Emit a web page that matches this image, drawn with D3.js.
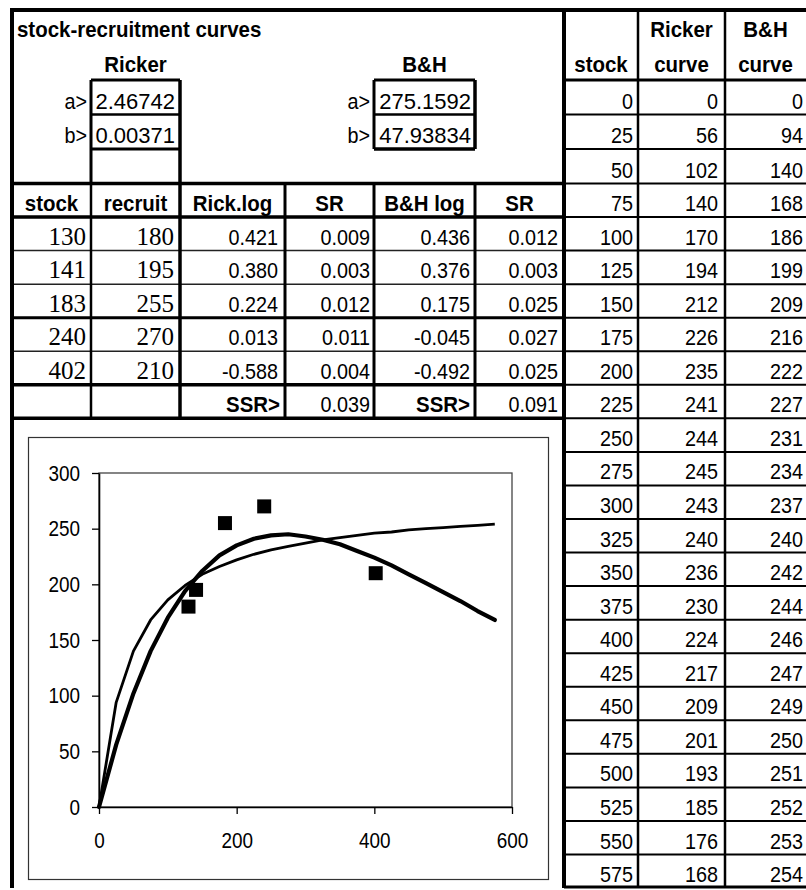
<!DOCTYPE html>
<html><head><meta charset="utf-8">
<script src="https://cdn.jsdelivr.net/npm/d3@7"></script>
<style>
html,body{margin:0;padding:0;background:#fff;}
svg{display:block;}
text{font-family:"Liberation Sans",Arial,sans-serif;fill:#000;}
</style></head><body>
<svg id="c" width="806" height="890"></svg>
<script>
// ---- data ----
const title = "stock-recruitment curves";
const gridStock   = [0,25,50,75,100,125,150,175,200,225,250,275,300,325,350,375,400,425,450,475,500,525,550,575];
const rickerCurve = [0,56,102,140,170,194,212,226,235,241,244,245,243,240,236,230,224,217,209,201,193,185,176,168];
const bhCurve     = [0,94,140,168,186,199,209,216,222,227,231,234,237,240,242,244,246,247,249,250,251,252,253,254];
const obsStock    = [130,141,183,240,402];
const obsRecruit  = [180,195,255,270,210];
const rickLog     = ["0.421","0.380","0.224","0.013","-0.588"];
const rickSR      = ["0.009","0.003","0.012","0.011","0.004"];
const bhLog       = ["0.436","0.376","0.175","-0.045","-0.492"];
const bhSR        = ["0.012","0.003","0.025","0.027","0.025"];
const ssrValues   = ["0.039","0.091"];
const rickerParams = ["2.46742","0.00371"];
const bhParams     = ["275.1592","47.93834"];
const paramLabels  = ["a>","b>"];
const midHeaders   = ["stock","recruit","Rick.log","SR","B&H log","SR"];
const yTicks = [0,50,100,150,200,250,300];
const xTicks = [0,200,400,600];

// ---- layout ----
const svg = d3.select("#c");
const colX = [12,91,180,285,374,475,564,638,725,806];
const edges = d3.range(25).map(i => i <= 3 ? 80 + i*34.5 : 183.5 + (i-3)*33.55);
const FS = 22, SX = 0.9;        // regular numbers (narrowed)
const FSB = 22, SXB = 0.93;     // bold labels
const FSERIF = 25;

const gL = svg.append("g");
function hl(x1,x2,y,w,c){gL.append("line").attr("x1",x1).attr("x2",x2).attr("y1",y).attr("y2",y).attr("stroke",c||"#000").attr("stroke-width",w);}
function vl(x,y1,y2,w,c){gL.append("line").attr("x1",x).attr("x2",x).attr("y1",y1).attr("y2",y2).attr("stroke",c||"#000").attr("stroke-width",w);}
const gT = svg.append("g");
function txt(x,y,s,anchor,opt){
  opt = opt||{};
  const sx = opt.serif ? 1 : (opt.bold ? SXB : (opt.sx||SX));
  gT.append("text").attr("x",0).attr("y",0)
    .attr("transform",`translate(${x},${y}) scale(${sx},1)`)
    .attr("text-anchor",anchor||"start")
    .attr("font-size",opt.size||(opt.bold?FSB:FS)).attr("font-weight",opt.bold?"bold":"normal")
    .style("font-family",opt.serif?'"Liberation Serif","Times New Roman",serif':null)
    .text(s);
}
const base = i => edges[i+1] - 6;
const right = (c,pad) => colX[c+1] - pad;
const center = c => (colX[c]+colX[c+1])/2;

// ---- header texts ----
txt(17,37,title,"start",{bold:true});
txt(center(1),72,"Ricker","middle",{bold:true});
txt(center(4),72,"B&H","middle",{bold:true});
txt(center(6),72,"stock","middle",{bold:true});
txt(center(7),37,"Ricker","middle",{bold:true});
txt(center(7),72,"curve","middle",{bold:true});
txt(center(8),37,"B&H","middle",{bold:true});
txt(center(8),72,"curve","middle",{bold:true});

// parameters
paramLabels.forEach((l,i)=>{
  txt(right(0,4),base(i),l,"end");
  txt(right(1,5),base(i),rickerParams[i],"end",{sx:1});
  txt(right(3,4),base(i),l,"end");
  txt(right(4,4),base(i),bhParams[i],"end",{sx:1});
});

// middle table
midHeaders.forEach((h,c)=>txt(center(c),base(3),h,"middle",{bold:true}));
obsStock.forEach((v,i)=>{
  const r = 4+i;
  txt(right(0,5),base(r),v,"end",{serif:true,size:FSERIF});
  txt(right(1,6),base(r),obsRecruit[i],"end",{serif:true,size:FSERIF});
  txt(right(2,7),base(r),rickLog[i],"end");
  txt(right(3,4),base(r),rickSR[i],"end");
  txt(right(4,5),base(r),bhLog[i],"end");
  txt(right(5,6),base(r),bhSR[i],"end");
});
txt(right(2,5),base(9),"SSR>","end",{bold:true});
txt(right(3,4),base(9),ssrValues[0],"end");
txt(right(4,5),base(9),"SSR>","end",{bold:true});
txt(right(5,6),base(9),ssrValues[1],"end");

// right table
gridStock.forEach((s,i)=>{
  txt(right(6,5),base(i),s,"end");
  txt(right(7,7),base(i),rickerCurve[i],"end");
  txt(right(8,3),base(i),bhCurve[i],"end");
});

// ---- grid lines ----
for(let i=1;i<24;i++) hl(colX[6],806,edges[i],2);
hl(colX[6],806,edges[0],3);
hl(colX[6],806,edges[24]-1,3);
vl(colX[7],10,888,2.5);
vl(colX[8],10,888,2.5);
// Ricker box
hl(colX[1],colX[2],edges[0],3); hl(colX[1],colX[2],edges[1],2.5); hl(colX[1],colX[2],edges[2],3);
vl(colX[1],edges[0],edges[3],3); vl(colX[2],edges[0],edges[3],3.5);
// B&H box
hl(colX[4],colX[5],edges[0],3); hl(colX[4],colX[5],edges[1],2.5); hl(colX[4],colX[5],edges[2],3.5);
vl(colX[4],edges[0],edges[2],3); vl(colX[5],edges[0],edges[2],3.5);
// middle table
hl(colX[0],colX[6],edges[3],3.5);
hl(colX[0],colX[6],edges[4],3.5);
hl(colX[0],colX[6],edges[5],1.5,"#222");
hl(colX[0],colX[6],edges[6],1.5,"#222");
hl(colX[0],colX[6],edges[7],3);
hl(colX[0],colX[6],edges[8],1.5,"#222");
hl(colX[0],colX[6],edges[9],3.5);
hl(colX[0],colX[6],edges[10],3.5);
vl(colX[1],edges[3],edges[10],2.5);
vl(colX[2],edges[3],edges[10],3.5);
vl(colX[3],edges[3],edges[10],3);
vl(colX[4],edges[3],edges[10],3);
vl(colX[5],edges[3],edges[10],3);
// outer borders
hl(10,806,10,4);
vl(12,8,888,4);
vl(colX[6],8,888,4);

// ---- chart ----
const gC = svg.append("g");
gC.append("rect").attr("x",28.5).attr("y",437.5).attr("width",520).attr("height",442)
  .attr("fill","#fff").attr("stroke","#333").attr("stroke-width",1.2);
const x = d3.scaleLinear().domain([0,600]).range([99,512]);
const y = d3.scaleLinear().domain([0,300]).range([807,473]);
gC.append("rect").attr("x",x(0)).attr("y",y(300)).attr("width",x(600)-x(0)).attr("height",y(0)-y(300))
  .attr("fill","none").attr("stroke","#444").attr("stroke-width",1.3);

const yAxis = gC.append("g").attr("transform",`translate(${x(0)},0)`)
  .call(d3.axisLeft(y).tickValues(yTicks).tickSize(7).tickPadding(12).tickSizeOuter(0));
const xAxis = gC.append("g").attr("transform",`translate(0,${y(0)})`)
  .call(d3.axisBottom(x).tickValues(xTicks).tickSize(7).tickPadding(18).tickSizeOuter(0));
[yAxis,xAxis].forEach(a=>{
  a.select(".domain").attr("stroke","#000").attr("stroke-width",1.6);
  a.selectAll(".tick line").attr("stroke","#000").attr("stroke-width",1.3);
});
// tick labels: narrowed like the spreadsheet font
yAxis.selectAll(".tick text").each(function(){
  const t = d3.select(this);
  t.attr("font-size",22).style("font-family",'"Liberation Sans",Arial,sans-serif').attr("fill","#000")
   .attr("transform",`translate(${t.attr("x")},0) scale(0.86,1)`).attr("x",0);
});
xAxis.selectAll(".tick text").each(function(){
  const t = d3.select(this);
  t.attr("font-size",22).style("font-family",'"Liberation Sans",Arial,sans-serif').attr("fill","#000")
   .attr("transform",`translate(0,${t.attr("y")}) scale(0.86,1)`).attr("y",0);
});

const line = d3.line().x(d=>x(d[0])).y(d=>y(d[1]));
gC.append("path").attr("d",line(gridStock.map((s,i)=>[s,bhCurve[i]])))
  .attr("fill","none").attr("stroke","#000").attr("stroke-width",2.8).attr("stroke-linejoin","round");
gC.append("path").attr("d",line(gridStock.map((s,i)=>[s,rickerCurve[i]])))
  .attr("fill","none").attr("stroke","#000").attr("stroke-width",4.2).attr("stroke-linejoin","round").attr("stroke-linecap","round");
gC.selectAll("rect.pt").data(obsStock.map((s,i)=>[s,obsRecruit[i]])).enter().append("rect")
  .attr("class","pt").attr("x",d=>x(d[0])-7).attr("y",d=>y(d[1])-7).attr("width",14).attr("height",14).attr("fill","#000");
</script>
</body></html>
